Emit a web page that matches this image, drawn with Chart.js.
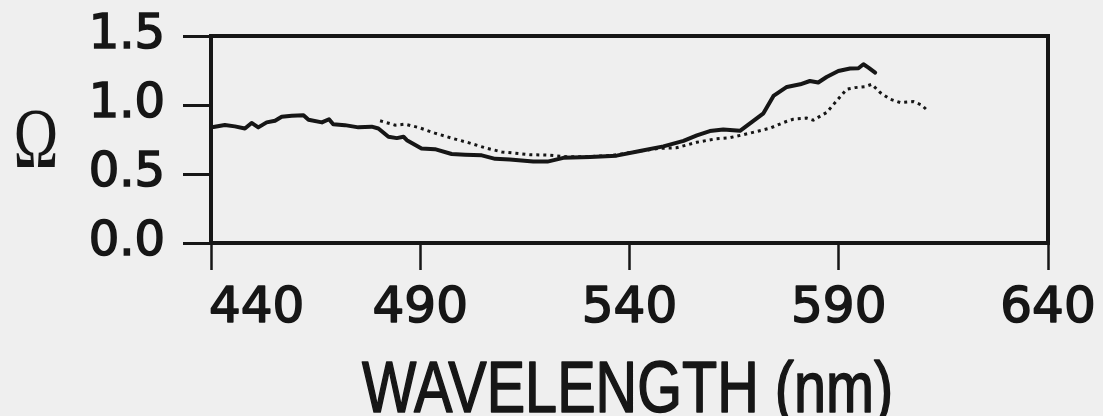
<!DOCTYPE html>
<html>
<head>
<meta charset="utf-8">
<script src="https://cdn.jsdelivr.net/npm/chart.js@4.4.1/dist/chart.umd.min.js"></script>
<style>
  html, body { margin: 0; padding: 0; background: #efefef; }
  #wrap { position: relative; width: 1103px; height: 416px; }
</style>
</head>
<body>
<div id="wrap"><canvas id="c" width="1103" height="416"></canvas></div>
<script>
// Spectrum of Omega versus wavelength: solid curve and dotted curve.
const solidNm = [440.6, 443.3, 445.7, 448.1, 449.7, 451.3, 453.3, 455.3, 456.9, 459.3,
  462.1, 463.3, 466.5, 468.2, 469.2, 472.0, 475.2, 478.4, 480.0, 482.4,
  484.4, 486.0, 486.8, 490.3, 493.5, 497.5, 500.7, 504.7, 507.9, 511.4,
  517.0, 520.4, 524.2, 530.6, 536.9, 542.5, 548.1, 552.9, 556.1, 559.2,
  562.4, 566.4, 569.6, 572.0, 574.4, 577.6, 580.8, 583.1, 585.1, 587.1,
  589.9, 592.7, 594.7, 595.9, 597.1, 598.7];
const solidOmega = [0.84, 0.855, 0.845, 0.83, 0.87, 0.838, 0.874, 0.886, 0.915, 0.922,
  0.926, 0.893, 0.874, 0.897, 0.861, 0.854, 0.838, 0.843, 0.83, 0.77,
  0.76, 0.77, 0.745, 0.685, 0.68, 0.645, 0.64, 0.635, 0.61, 0.605,
  0.591, 0.59, 0.617, 0.624, 0.633, 0.667, 0.70, 0.74, 0.78, 0.811,
  0.823, 0.813, 0.885, 0.94, 1.066, 1.131, 1.15, 1.174, 1.163, 1.203,
  1.246, 1.264, 1.266, 1.295, 1.271, 1.235];

const dottedNm = [480.4, 484.0, 486.4, 489.5, 493.5, 497.5, 501.5, 505.5, 509.5, 516.2,
  520.6, 525.0, 530.0, 536.0, 542.0, 547.0, 551.2, 556.1, 560.8, 564.0,
  567.2, 570.4, 573.6, 576.8, 579.1, 582.3, 583.9, 587.1, 589.5, 591.9,
  593.9, 596.3, 597.9, 599.9, 602.3, 604.7, 607.8, 609.8, 611.2];
const dottedOmega = [0.886, 0.854, 0.861, 0.838, 0.796, 0.76, 0.727, 0.69, 0.66, 0.64,
  0.637, 0.625, 0.625, 0.635, 0.665, 0.685, 0.69, 0.73, 0.756, 0.763,
  0.785, 0.808, 0.832, 0.873, 0.897, 0.905, 0.89, 0.946, 1.03, 1.114,
  1.126, 1.133, 1.15, 1.09, 1.042, 1.018, 1.025, 1.0, 0.96];

const xTickLabels = ['440', '490', '540', '590', '640'];
const yTickLabels = ['0.0', '0.5', '1.0', '1.5'];
const xTitle = 'WAVELENGTH (nm)';
const yTitle = '\u03A9';

const INK = '#161616';

function pairs(xs, ys) {
  return xs.map((x, i) => ({ x: x, y: ys[i] }));
}

function heavyText(ctx, text, x, y, stroke) {
  ctx.lineWidth = stroke;
  ctx.lineJoin = 'round';
  ctx.strokeText(text, x, y);
  ctx.fillText(text, x, y);
}

// Top and right edges of the plot frame, x tick labels, and axis titles.
const framePlugin = {
  id: 'frame',
  afterDraw(chart) {
    const { ctx, chartArea: a } = chart;
    const xs = chart.scales.x;
    ctx.save();
    ctx.strokeStyle = INK;
    ctx.fillStyle = INK;
    ctx.lineWidth = 4;
    ctx.lineCap = 'square';
    ctx.beginPath();
    ctx.moveTo(a.left, a.top);
    ctx.lineTo(a.right, a.top);
    ctx.lineTo(a.right, a.bottom);
    ctx.stroke();
    ctx.lineCap = 'butt';

    // x tick labels
    ctx.font = '50px "DejaVu Sans"';
    ctx.textBaseline = 'alphabetic';
    xs.ticks.forEach((t, i) => {
      const px = xs.getPixelForValue(t.value);
      if (i === 0) {
        ctx.textAlign = 'left';
        heavyText(ctx, xTickLabels[i], px - 2, a.bottom + 79, 1.6);
      } else {
        ctx.textAlign = 'center';
        heavyText(ctx, xTickLabels[i], px, a.bottom + 79, 1.6);
      }
    });

    // x axis title
    ctx.save();
    ctx.translate((a.left + a.right) / 2 - 2, 412);
    ctx.scale(0.8, 1);
    ctx.font = '72px "Liberation Sans"';
    ctx.textAlign = 'center';
    heavyText(ctx, xTitle, 0, 0, 1.6);
    ctx.restore();

    // y axis title
    ctx.save();
    ctx.translate(36, 167);
    ctx.scale(0.72, 1);
    ctx.font = '84px "Liberation Serif"';
    ctx.textAlign = 'center';
    ctx.fillText(yTitle, 0, 0);
    ctx.restore();

    ctx.restore();
  }
};

new Chart(document.getElementById('c'), {
  type: 'line',
  data: {
    datasets: [
      {
        label: 'solid',
        data: pairs(solidNm, solidOmega),
        borderColor: INK,
        borderWidth: 4,
        borderJoinStyle: 'round',
        borderCapStyle: 'round',
        pointRadius: 0,
        tension: 0,
        fill: false
      },
      {
        label: 'dotted',
        data: pairs(dottedNm, dottedOmega),
        borderColor: INK,
        borderWidth: 3,
        borderDash: [3, 4],
        borderCapStyle: 'butt',
        pointRadius: 0,
        tension: 0,
        fill: false
      }
    ]
  },
  options: {
    responsive: false,
    animation: false,
    devicePixelRatio: 1,
    layout: { padding: { top: 36, right: 55, left: 0, bottom: 0 } },
    plugins: {
      legend: { display: false },
      tooltip: { enabled: false },
      title: { display: false }
    },
    scales: {
      x: {
        type: 'linear',
        min: 440,
        max: 640,
        ticks: { stepSize: 50, display: false },
        grid: {
          display: true,
          drawOnChartArea: false,
          drawTicks: true,
          tickLength: 27,
          tickWidth: 2.5,
          tickColor: INK
        },
        border: { display: true, width: 4, color: INK },
        afterFit(scale) {
          scale.height = 173;
          scale.paddingLeft = 0;
          scale.paddingRight = 0;
        }
      },
      y: {
        type: 'linear',
        min: 0,
        max: 1.5,
        ticks: {
          stepSize: 0.5,
          padding: 18,
          color: INK,
          textStrokeColor: INK,
          textStrokeWidth: 1.6,
          font: { family: 'DejaVu Sans', size: 48 },
          callback: (v, i) => yTickLabels[i]
        },
        grid: {
          display: true,
          drawOnChartArea: false,
          drawTicks: true,
          tickLength: 28,
          tickWidth: 3,
          tickColor: INK
        },
        border: { display: true, width: 4, color: INK },
        afterFit(scale) {
          scale.width = 211;
          scale.paddingTop = 0;
          scale.paddingBottom = 0;
        }
      }
    }
  },
  plugins: [framePlugin]
});
</script>
</body>
</html>
